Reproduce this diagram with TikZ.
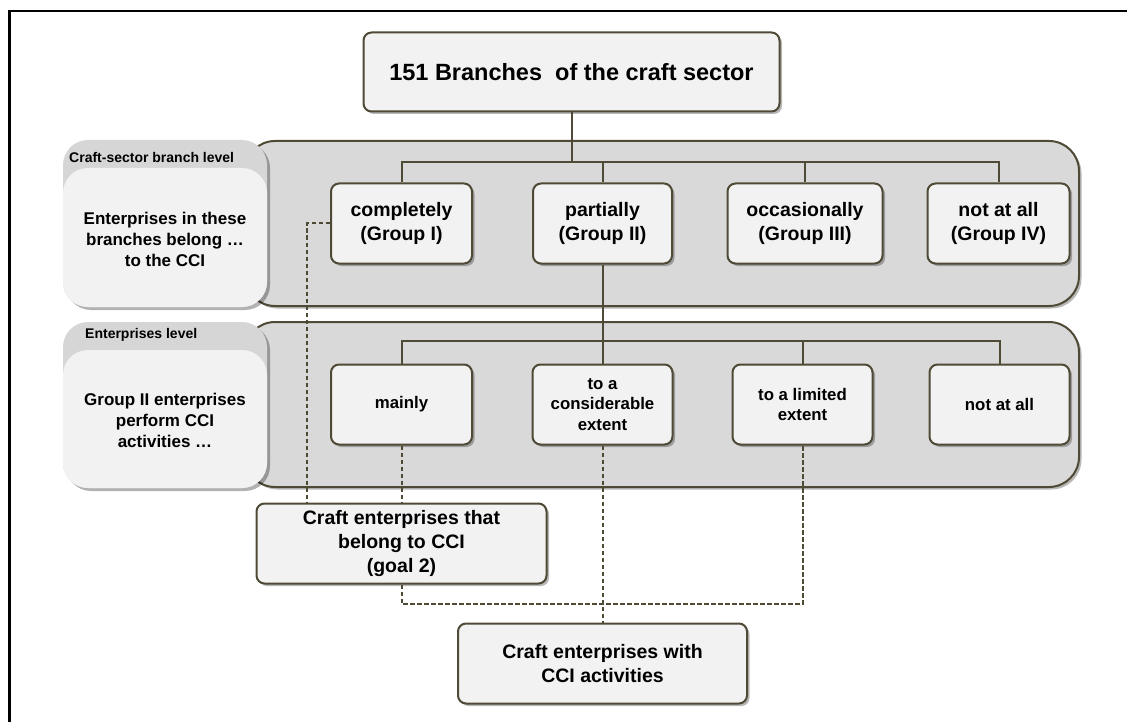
\documentclass[tikz,border=0pt]{standalone}
\usepackage{fontspec}
\setmainfont{Liberation Sans}
\usetikzlibrary{shadows}
\definecolor{edgec}{HTML}{4F4A36}
\definecolor{boxfill}{HTML}{F2F2F2}
\definecolor{bandfill}{HTML}{D9D9D9}
\definecolor{headfill}{HTML}{D6D6D6}
\begin{document}
\begin{tikzpicture}[x=1pt,y=-1pt,
  shade/.style={drop shadow={shadow xshift=2.5pt,shadow yshift=-2.5pt,fill=black,opacity=0.28}},
  box/.style={draw=edgec,line width=2pt,fill=boxfill,rounded corners=8pt,align=center,inner sep=0pt,shade,
    font=\bfseries\fontsize{19.5}{24}\selectfont},
  smallbox/.style={box,font=\bfseries\fontsize{16.8}{20.5}\selectfont},
  band/.style={draw=edgec,line width=2pt,fill=bandfill,rounded corners=30pt,shade},
  panelout/.style={fill=headfill,rounded corners=25pt,minimum width=204pt,inner sep=0pt,
    drop shadow={shadow xshift=3pt,shadow yshift=-3pt,fill=black,opacity=0.3}},
  panelin/.style={fill=boxfill,rounded corners=25pt,minimum width=204pt,inner sep=0pt},
  paneltext/.style={align=center,font=\bfseries\fontsize{17}{21}\selectfont},
  headtext/.style={anchor=west,inner sep=0pt,font=\bfseries\fontsize{14}{16}\selectfont},
  conn/.style={draw=edgec,line width=2pt},
  dashline/.style={draw=edgec,line width=2pt,dash pattern=on 4.5pt off 2.5pt}]
\useasboundingbox (0,0) rectangle (1127,722);
% frame
\draw[black,line width=2.6pt] (9.5,722) -- (9.5,11) -- (1127,11);
% bands
\draw[band] (245,141) rectangle (1079,306);
\draw[band] (245,322) rectangle (1079,487);
% panels
\node[panelout,minimum height=167pt] (p1) at (165,223.5) {};
\node[panelin,minimum height=139pt] (p1in) at (165,237.5) {};
\node[paneltext] (p1t) at (165,239) {Enterprises in these\\branches belong …\\to the CCI};
\node[headtext] (p1h) at (69,157) {Craft-sector branch level};
\node[panelout,minimum height=166pt] (p2) at (165,405) {};
\node[panelin,minimum height=138pt] (p2in) at (165,419) {};
\node[paneltext] (p2t) at (165,420) {Group II enterprises\\perform CCI\\activities …};
\node[headtext] (p2h) at (85,335) {Enterprises level};
% coordinates for buses
\coordinate (bus1) at (0,162);
\coordinate (bus2) at (0,341);
\coordinate (bus3) at (0,604);
\coordinate (dl) at (307,0);
% boxes
\node[box,minimum width=416pt,minimum height=79pt,font=\bfseries\fontsize{23.5}{28}\selectfont] (title) at (571.5,72) {151 Branches \ of the craft sector};
\node[box,minimum width=141pt,minimum height=80pt] (g1) at (401.5,223.5) {completely\\(Group I)};
\node[box,minimum width=139pt,minimum height=80pt] (g2) at (602.5,223.5) {partially\\(Group II)};
\node[box,minimum width=155pt,minimum height=80pt] (g3) at (805,223.5) {occasionally\\(Group III)};
\node[box,minimum width=142pt,minimum height=80pt] (g4) at (998.5,223.5) {not at all\\(Group IV)};
\node[smallbox,minimum width=141pt,minimum height=80pt] (e1) at (401.5,404.5) {mainly};
\node[smallbox,minimum width=140pt,minimum height=80pt] (e2) at (602.5,404.5) {to a\\considerable\\extent};
\node[smallbox,minimum width=140pt,minimum height=80pt] (e3) at (802.5,404.5) {to a limited\\extent};
\node[smallbox,minimum width=140pt,minimum height=80pt] (e4) at (999.5,404.5) {not at all};
\node[box,minimum width=290pt,minimum height=80pt] (goal) at (401.5,543.5) {Craft enterprises that\\belong to CCI\\(goal 2)};
\node[box,minimum width=289pt,minimum height=80pt] (cci) at (602.5,663.5) {Craft enterprises with\\CCI activities};
% tree connectors
\draw[conn] (title.south) -- (title.south |- bus1);
\draw[conn] (g1.north) -- (g1.north |- bus1) -- (g4.north |- bus1) -- (g4.north);
\draw[conn] (g2.north) -- (g2.north |- bus1);
\draw[conn] (g3.north) -- (g3.north |- bus1);
\draw[conn] (g2.south) -- (e2.north);
\draw[conn] (e1.north) -- (e1.north |- bus2) -- (e4.north |- bus2) -- (e4.north);
\draw[conn] (e3.north) -- (e3.north |- bus2);
% dashed connectors
\draw[dashline] (g1.west) -| (dl |- goal.north);
\draw[dashline] (e1.south) -- (goal.north);
\draw[dashline] (goal.south) -- (goal.south |- bus3) -| (e3.south);
\draw[dashline] (e2.south) -- (cci.north);
\end{tikzpicture}
\end{document}
